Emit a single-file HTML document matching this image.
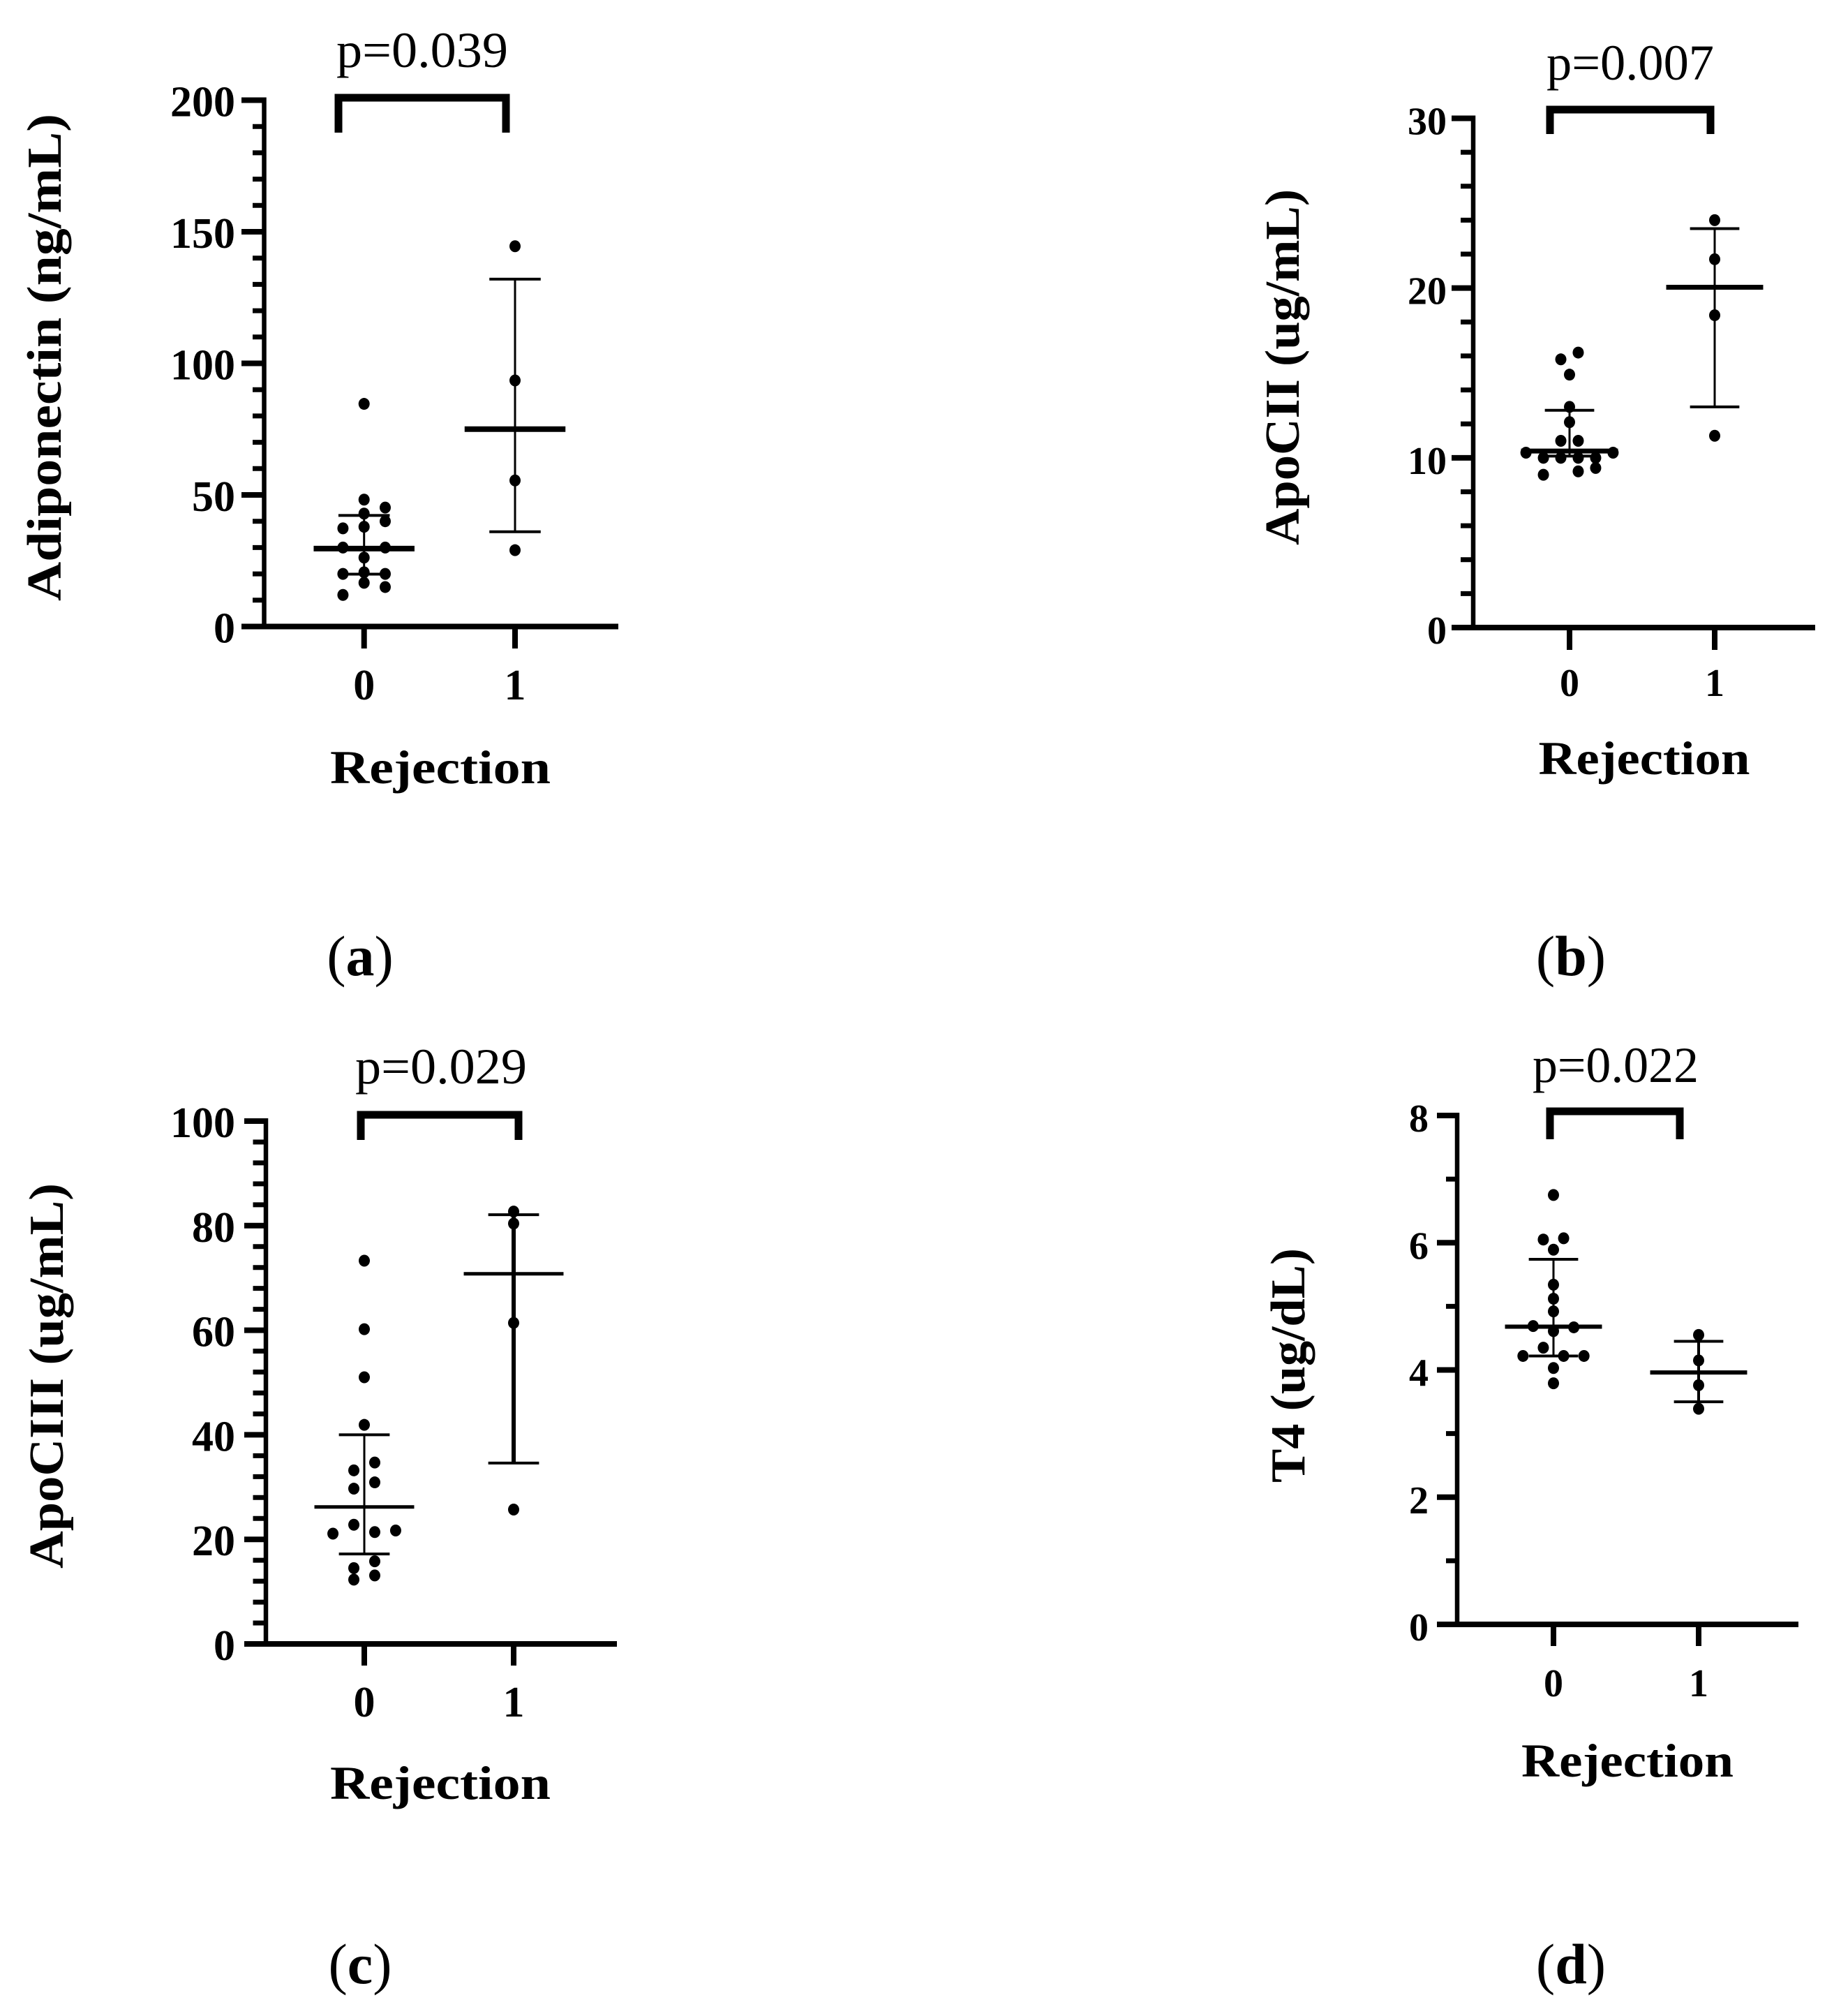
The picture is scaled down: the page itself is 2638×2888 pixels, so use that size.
<!DOCTYPE html>
<html lang="en">
<head>
<meta charset="utf-8">
<title>Rejection biomarker dot plots</title>
<style>
html,body{margin:0;padding:0;background:#fff;}
svg{display:block;}
text{font-family:"Liberation Serif","DejaVu Serif",serif;fill:#000;}
.axis-title{font-weight:bold;}
.p-label{font-weight:normal;}
.tick-label{font-weight:bold;}
.panel-label{font-weight:normal;}
.panel-label tspan{font-weight:bold;}
</style>
</head>
<body>
<svg id="figure" xmlns="http://www.w3.org/2000/svg" width="2638" height="2888" viewBox="0 0 2638 2888">
  <rect width="2638" height="2888" fill="#fff"/>

  <g id="panel-a">
    <text class="p-label" x="605" y="96" font-size="72" text-anchor="middle" textLength="246" lengthAdjust="spacingAndGlyphs">p=0.039</text>
    <text class="axis-title" x="631" y="1122" font-size="68" text-anchor="middle" textLength="316" lengthAdjust="spacingAndGlyphs">Rejection</text>
    <text class="axis-title" transform="translate(87 512) rotate(-90)" font-size="70" text-anchor="middle" textLength="698" lengthAdjust="spacingAndGlyphs">Adiponectin (ng/mL)</text>
    <text class="panel-label" x="516" y="1397" font-size="82" text-anchor="middle">(<tspan>a</tspan>)</text>
  </g>

  <g id="panel-b">
    <text class="p-label" x="2336" y="114" font-size="72" text-anchor="middle" textLength="240" lengthAdjust="spacingAndGlyphs">p=0.007</text>
    <text class="axis-title" x="2356" y="1109" font-size="68" text-anchor="middle" textLength="303" lengthAdjust="spacingAndGlyphs">Rejection</text>
    <text class="axis-title" transform="translate(1861 526) rotate(-90)" font-size="70" text-anchor="middle" textLength="510" lengthAdjust="spacingAndGlyphs">ApoCII (ug/mL)</text>
    <text class="panel-label" x="2251" y="1397" font-size="82" text-anchor="middle">(<tspan>b</tspan>)</text>
  </g>

  <g id="panel-c">
    <text class="p-label" x="632" y="1552" font-size="72" text-anchor="middle" textLength="246" lengthAdjust="spacingAndGlyphs">p=0.029</text>
    <text class="axis-title" x="631" y="2577" font-size="68" text-anchor="middle" textLength="316" lengthAdjust="spacingAndGlyphs">Rejection</text>
    <text class="axis-title" transform="translate(90 1971) rotate(-90)" font-size="70" text-anchor="middle" textLength="552" lengthAdjust="spacingAndGlyphs">ApoCIII (ug/mL)</text>
    <text class="panel-label" x="516" y="2841" font-size="82" text-anchor="middle">(<tspan>c</tspan>)</text>
  </g>

  <g id="panel-d">
    <text class="p-label" x="2315" y="1550" font-size="72" text-anchor="middle" textLength="238" lengthAdjust="spacingAndGlyphs">p=0.022</text>
    <text class="axis-title" x="2332" y="2545" font-size="68" text-anchor="middle" textLength="304" lengthAdjust="spacingAndGlyphs">Rejection</text>
    <text class="axis-title" transform="translate(1869 1956) rotate(-90)" font-size="70" text-anchor="middle" textLength="336" lengthAdjust="spacingAndGlyphs">T4 (ug/dL)</text>
    <text class="panel-label" x="2251" y="2841" font-size="82" text-anchor="middle">(<tspan>d</tspan>)</text>
  </g>
</svg>

<script>
// ---------- chart data ----------
const categories = ["0", "1"];

// Panel a: Adiponectin (ng/mL)
const aTicks = ["0", "50", "100", "150", "200"];
const aMax = 200;
const aMinorStep = 10;
const aValues0 = [84.6, 48.2, 45.2, 42.9, 40, 37.9, 37.3, 30, 30, 26.2, 20, 20, 20.6, 16.6, 15, 12];
const aJitter0 = [0, 0, 0.14, 0, 0.14, 0, -0.14, -0.14, 0.14, 0, -0.14, 0.14, 0, 0, 0.14, -0.14];
const aValues1 = [144.5, 93.5, 55.5, 29];
const aJitter1 = [0, 0, 0, 0];
const aMeans = [29.6, 75];
const aUppers = [42.2, 132];
const aLowers = [19.9, 36];

// Panel b: ApoCII (ug/mL)
const bTicks = ["0", "10", "20", "30"];
const bMax = 30;
const bMinorStep = 2;
const bValues0 = [16.2, 15.8, 14.9, 13, 12.1, 11, 11, 10.3, 10.3, 10, 10, 10, 10, 9, 9.2, 9.4];
const bJitter0 = [0.06, -0.06, 0, 0, 0, -0.06, 0.06, -0.3, 0.3, -0.18, -0.06, 0.06, 0.18, -0.18, 0.06, 0.18];
const bValues1 = [24, 21.7, 18.4, 11.3];
const bJitter1 = [0, 0, 0, 0];
const bMeans = [10.4, 20.05];
const bUppers = [12.8, 23.5];
const bLowers = [10.1, 13];

// Panel c: ApoCIII (ug/mL)
const cTicks = ["0", "20", "40", "60", "80", "100"];
const cMax = 100;
const cMinorStep = 4;
const cValues0 = [73.3, 60.2, 51, 41.9, 34.7, 33.2, 30.9, 29.7, 22.8, 21.4, 21.7, 21.1, 15.8, 14.5, 13.1, 12.3];
const cJitter0 = [0, 0, 0, 0, 0.07, -0.07, 0.07, -0.07, -0.07, 0.07, 0.21, -0.21, 0.07, -0.07, 0.07, -0.07];
const cValues1 = [82.7, 80.4, 61.4, 25.7];
const cJitter1 = [0, 0, 0, 0];
const cMeans = [26.2, 70.8];
const cUppers = [40, 82.1];
const cLowers = [17.2, 34.6];

// Panel d: T4 (ug/dL)
const dTicks = ["0", "2", "4", "6", "8"];
const dMax = 8;
const dMinorStep = 1;
const dValues0 = [6.75, 6.05, 6.07, 5.89, 5.34, 5.12, 4.92, 4.69, 4.67, 4.61, 4.35, 4.22, 4.22, 4.22, 4.03, 3.79];
const dJitter0 = [0, -0.07, 0.07, 0, 0, 0, 0, -0.14, 0.14, 0, -0.07, -0.21, 0.07, 0.21, 0, 0];
const dValues1 = [4.55, 4.15, 3.76, 3.39];
const dJitter1 = [0, 0, 0, 0];
const dMeans = [4.68, 3.96];
const dUppers = [5.74, 4.45];
const dLowers = [4.22, 3.5];

// ---------- drawing ----------
const SVG_NS = "http://www.w3.org/2000/svg";

function make(tag, attrs, parent) {
  const node = document.createElementNS(SVG_NS, tag);
  Object.keys(attrs).forEach(function (k) { node.setAttribute(k, attrs[k]); });
  parent.appendChild(node);
  return node;
}

function line(x1, y1, x2, y2, w, parent) {
  return make("line", { x1: x1, y1: y1, x2: x2, y2: y2, stroke: "#000", "stroke-width": w }, parent);
}

function drawPanel(panel) {
  const root = document.getElementById(panel.id);
  const g = panel.geom;
  const yScale = function (v) { return g.y0 - (v / panel.max) * (g.y0 - g.yTop); };
  const xScale = function (c) { return g.x0 + c * (g.x1 - g.x0); };

  // y axis
  const yAxis = line(g.axisX, yScale(panel.max) - 4, g.axisX, g.y0, 6.5, root);
  
  

  // x axis
  const xAxis = line(g.majorLeft, g.y0, g.xEnd, g.y0, 8, root);
  
  

  // minor ticks
  for (let v = panel.minorStep; v < panel.max; v += panel.minorStep) {
    const minor = line(g.minorLeft, yScale(v), g.axisX, yScale(v), 7, root);
    
    
  }

  // major ticks and labels
  panel.ticks.forEach(function (label) {
    const v = Number(label);
    const major = line(g.majorLeft, yScale(v), g.axisX, yScale(v), 8, root);
    
    
    const tickText = make("text", { x: g.labelRight, y: yScale(v) + 23, "font-size": g.tickFont, "text-anchor": "end", "class": "tick-label" }, root);
    tickText.textContent = label;
    
    
  });

  // x ticks and labels
  categories.forEach(function (label, c) {
    const xt = line(xScale(c), g.y0, xScale(c), g.xTickBottom, 8, root);
    
    
    const xLabel = make("text", { x: xScale(c), y: g.xLabelY, "font-size": g.tickFont, "text-anchor": "middle", "class": "tick-label" }, root);
    xLabel.textContent = label;
    
    
  });

  // significance bracket
  const bracket = make("path", {
    d: "M" + g.brL + " " + g.brBottom + "V" + g.brTop + "H" + g.brR + "V" + g.brBottom,
    fill: "none", stroke: "#000", "stroke-width": 11
  }, root);
  
  

  // error bars and means
  categories.forEach(function (label, c) {
    const w = panel.widths[c];
    const cx = xScale(c);
    const unit = g.x1 - g.x0;
    const stem = line(cx, yScale(panel.uppers[c]), cx, yScale(panel.lowers[c]), w.stem, root);
    
    
    const capHi = line(cx - 0.17 * unit, yScale(panel.uppers[c]), cx + 0.17 * unit, yScale(panel.uppers[c]), w.cap, root);
    
    
    const capLo = line(cx - 0.17 * unit, yScale(panel.lowers[c]), cx + 0.17 * unit, yScale(panel.lowers[c]), w.cap, root);
    
    
    const meanLine = line(cx - 0.334 * unit, yScale(panel.means[c]), cx + 0.334 * unit, yScale(panel.means[c]), w.mean, root);
    
    
  });

  // points
  [[panel.values0, panel.jitter0, 0], [panel.values1, panel.jitter1, 1]].forEach(function (grp) {
    grp[0].forEach(function (v, i) {
      const dot = make("ellipse", { cx: xScale(grp[2] + grp[1][i]), cy: yScale(v), rx: 8, ry: 8.5, fill: "#000" }, root);
      
      
    });
  });
}

drawPanel({
  id: "panel-a", max: aMax, minorStep: aMinorStep, ticks: aTicks,
  values0: aValues0, jitter0: aJitter0, values1: aValues1, jitter1: aJitter1,
  means: aMeans, uppers: aUppers, lowers: aLowers,
  widths: [{ stem: 3, cap: 4, mean: 8 }, { stem: 3, cap: 4, mean: 8 }],
  geom: { axisX: 378.5, y0: 897.5, yTop: 143.5, x0: 521.7, x1: 738, xEnd: 886, majorLeft: 346, minorLeft: 362, labelRight: 337, tickFont: 62, xLabelY: 1002, xTickBottom: 929, brL: 485, brR: 725, brTop: 140, brBottom: 190 }
});

drawPanel({
  id: "panel-b", max: bMax, minorStep: bMinorStep, ticks: bTicks,
  values0: bValues0, jitter0: bJitter0, values1: bValues1, jitter1: bJitter1,
  means: bMeans, uppers: bUppers, lowers: bLowers,
  widths: [{ stem: 3, cap: 4, mean: 7 }, { stem: 3, cap: 4, mean: 7 }],
  geom: { axisX: 2111, y0: 899, yTop: 169.5, x0: 2249, x1: 2457, xEnd: 2601, majorLeft: 2080, minorLeft: 2093, labelRight: 2073, tickFont: 56, xLabelY: 997, xTickBottom: 931, brL: 2221, brR: 2451, brTop: 157, brBottom: 192 }
});

drawPanel({
  id: "panel-c", max: cMax, minorStep: cMinorStep, ticks: cTicks,
  values0: cValues0, jitter0: cJitter0, values1: cValues1, jitter1: cJitter1,
  means: cMeans, uppers: cUppers, lowers: cLowers,
  widths: [{ stem: 3, cap: 4, mean: 5 }, { stem: 6, cap: 4, mean: 5 }],
  geom: { axisX: 381, y0: 2355, yTop: 1606, x0: 522, x1: 736, xEnd: 884, majorLeft: 350, minorLeft: 362.5, labelRight: 337, tickFont: 62, xLabelY: 2459, xTickBottom: 2386, brL: 517, brR: 743, brTop: 1597, brBottom: 1633 }
});

drawPanel({
  id: "panel-d", max: dMax, minorStep: dMinorStep, ticks: dTicks,
  values0: dValues0, jitter0: dJitter0, values1: dValues1, jitter1: dJitter1,
  means: dMeans, uppers: dUppers, lowers: dLowers,
  widths: [{ stem: 3, cap: 4, mean: 6 }, { stem: 4, cap: 4, mean: 6 }],
  geom: { axisX: 2088, y0: 2327, yTop: 1598, x0: 2226, x1: 2434, xEnd: 2577, majorLeft: 2059, minorLeft: 2072, labelRight: 2047, tickFont: 56, xLabelY: 2430, xTickBottom: 2358, brL: 2221, brR: 2407, brTop: 1592, brBottom: 1632 }
});
</script>
</body>
</html>
